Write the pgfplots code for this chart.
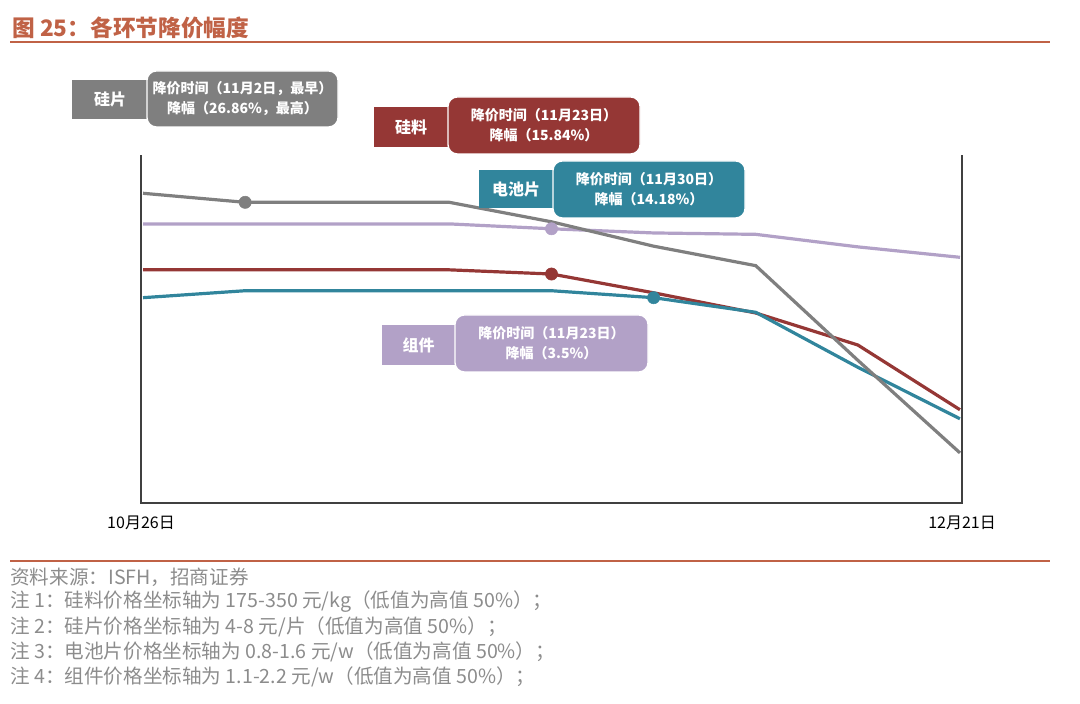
\documentclass[border=0pt]{standalone}
\usepackage{pgfplots}
\usepackage{pgfplotstable}
\pgfplotsset{compat=1.18}
\usepackage{fontspec}
\setmainfont{Noto Sans CJK SC}
\definecolor{titlec}{RGB}{192,98,70}
\definecolor{grayc}{RGB}{127,127,127}
\definecolor{redc}{RGB}{149,55,53}
\definecolor{tealc}{RGB}{49,133,156}
\definecolor{purc}{RGB}{178,161,199}
\definecolor{notec}{RGB}{140,140,140}
\definecolor{axc}{RGB}{64,64,64}

\pgfplotstableread{
x silicon wafer cell module
0 0.835 0.945 0.795 0.901
1 0.835 0.932 0.805 0.901
2 0.835 0.932 0.805 0.901
3 0.835 0.932 0.805 0.901
4 0.829 0.904 0.805 0.894
5 0.802 0.869 0.795 0.888
6 0.773 0.841 0.774 0.886
7 0.727 0.705 0.695 0.868
8 0.634 0.572 0.621 0.853
}\data

\pgfplotstableread{
x y
1 0.932
}\wafermark
\pgfplotstableread{
x y
4 0.829
}\siliconmark
\pgfplotstableread{
x y
4 0.894
}\modulemark
\pgfplotstableread{
x y
5 0.795
}\cellmark

\begin{document}
\begin{tikzpicture}[x=0.75pt,y=0.75pt]
\path (0,0) rectangle (1080,703);
% title
\node[anchor=west, text=titlec, font=\fontsize{17}{20}\selectfont\bfseries, inner sep=0] at (12,675) {图 25：各环节降价幅度};
\draw[titlec, line width=1.5pt] (10,661) -- (1050,661);
\draw[titlec, line width=1.5pt] (10,142) -- (1050,142);

\begin{axis}[
  at={(105.75pt,150pt)}, anchor=south west,
  width=615.75pt, height=261pt, scale only axis,
  xmin=-0.02, xmax=8.02, ymin=0.5, ymax=1.0,
  axis line style={draw=none},
  clip=false,
  xtick={-0.02,8.02}, xticklabels={10月26日,12月21日},
  major tick length=0pt,
  xticklabel style={font=\fontsize{12}{14}\selectfont, text=black, yshift=-6pt},
  ytick=\empty,
]
\draw[axc, line width=1.1pt] (rel axis cs:0,1) -- (rel axis cs:0,0) -- (rel axis cs:1,0) -- (rel axis cs:1,1);
\addplot[purc, line width=2.4pt, no markers] table[x=x, y=module] {\data};
\addplot[redc, line width=2.4pt, no markers] table[x=x, y=silicon] {\data};
\addplot[tealc, line width=2.4pt, no markers] table[x=x, y=cell] {\data};
\addplot[grayc, line width=2.4pt, no markers] table[x=x, y=wafer] {\data};
\addplot[only marks, mark=*, mark size=4.6pt, mark options={fill=grayc, draw=grayc}] table {\wafermark};
\addplot[only marks, mark=*, mark size=4.6pt, mark options={fill=redc, draw=redc}] table {\siliconmark};
\addplot[only marks, mark=*, mark size=4.6pt, mark options={fill=purc, draw=purc}] table {\modulemark};
\addplot[only marks, mark=*, mark size=4.6pt, mark options={fill=tealc, draw=tealc}] table {\cellmark};
\end{axis}

% boxes
\tikzset{lab/.style={text=white, font=\fontsize{12}{14}\selectfont\bfseries, inner sep=0},
         info/.style={text=white, font=\fontsize{10.5}{15}\selectfont\bfseries, align=center, inner sep=0}}
% 硅片
\fill[grayc] (72,584) rectangle (147,623);
\filldraw[fill=grayc, draw=white, line width=1pt, rounded corners=7pt] (147,576) rectangle (338,632);
\node[lab] at (110,603.5) {硅片};
\node[info] at (242.5,604) {降价时间（11月2日，最早）\\降幅（26.86\%，最高）};
% 硅料
\fill[redc] (374,556) rectangle (448,596);
\filldraw[fill=redc, draw=white, line width=1pt, rounded corners=7pt] (448,549) rectangle (640,606);
\node[lab] at (411,576) {硅料};
\node[info] at (544,577.5) {降价时间（11月23日）\\降幅（15.84\%）};
% 电池片
\fill[tealc] (479,495) rectangle (553,533);
\filldraw[fill=tealc, draw=white, line width=1pt, rounded corners=7pt] (553,485) rectangle (745,542);
\node[lab] at (516,514) {电池片};
\node[info] at (649,513.5) {降价时间（11月30日）\\降幅（14.18\%）};
% 组件
\fill[purc] (382,338) rectangle (455,378);
\filldraw[fill=purc, draw=white, line width=1pt, rounded corners=7pt] (455,331) rectangle (648,388);
\node[lab] at (418.5,358) {组件};
\node[info] at (551.5,359.5) {降价时间（11月23日）\\降幅（3.5\%）};

% notes
\begin{scope}[every node/.style={anchor=west, text=notec, font=\fontsize{14.7}{16}\selectfont, inner sep=0}]
\node at (10,126) {资料来源：ISFH，招商证券};
\node at (10,101) {注 1：硅料价格坐标轴为 175-350 元/kg（低值为高值 50\%）；};
\node at (10,76) {注 2：硅片价格坐标轴为 4-8 元/片（低值为高值 50\%）；};
\node at (10,51) {注 3：电池片价格坐标轴为 0.8-1.6 元/w（低值为高值 50\%）；};
\node at (10,26) {注 4：组件价格坐标轴为 1.1-2.2 元/w（低值为高值 50\%）；};
\end{scope}
\end{tikzpicture}
\end{document}
